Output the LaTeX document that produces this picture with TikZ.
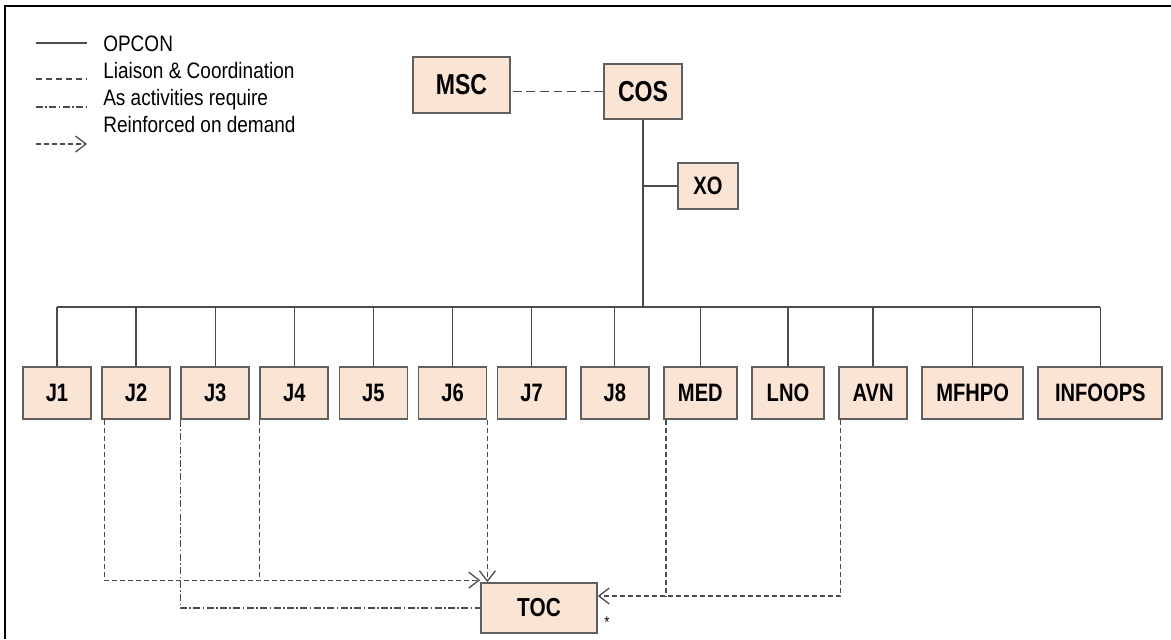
\documentclass[tikz,border=0pt]{standalone}
\usepackage{fontspec}
\setmainfont{Liberation Sans}
\newfontfamily\boxfont{Liberation Sans}[FakeStretch=0.8]
\newfontfamily\legendfont{Liberation Sans}[FakeStretch=0.85]
\usepackage{tikz}
\usepackage{xcolor}
\usetikzlibrary{positioning}
\usetikzlibrary{arrows.meta}
\definecolor{boxfill}{RGB}{250,228,212}
\definecolor{boxline}{RGB}{95,95,95}
\definecolor{linkgray}{RGB}{75,75,75}

\begin{document}
\begin{tikzpicture}[x=0.025cm, y=-0.025cm,
		unit/.style={draw=boxline, line width=1.2pt, fill=boxfill, minimum height=1.3cm, inner sep=0pt, font=\boxfont\bfseries\fontsize{17.9}{20}\selectfont},
		jbox/.style={unit, minimum width=1.7cm},
		opcon/.style={draw=linkgray, line width=1pt},
		liaison/.style={draw=linkgray, line width=1pt, dash pattern=on 0.22cm off 0.12cm},
		asreq/.style={draw=linkgray, line width=0.9pt, dash pattern=on 0.175cm off 0.06cm on 0.04cm off 0.06cm},
		reinf/.style={draw=linkgray, line width=0.9pt, dash pattern=on 0.12cm off 0.08cm},
		tip/.style={-{Straight Barb[length=0.26cm, width=0.4cm, line width=0.9pt]}},
		legtext/.style={anchor=base west, inner sep=0pt, font=\legendfont\fontsize{15.9}{18}\selectfont}]
			\useasboundingbox (0,0) rectangle (1171,639);
			\draw[line width=1.4pt] (5,639) -- (5,6) -- (1171,6);
			
			% legend
			\draw[opcon] (36,43) -- (87,43);
			\draw[liaison, dash pattern=on 0.16cm off 0.09cm] (36,79) -- (87,79);
			\draw[asreq] (36,107) -- (87,107);
			\draw[reinf, tip] (36,144) -- (87,144);
			\node[legtext] (lg1) at (103,51) {OPCON};
			\node[legtext] (lg2) at (103,78) {Liaison \& Coordination};
			\node[legtext] (lg3) at (103,105) {As activities require};
			\node[legtext] (lg4) at (103,132) {Reinforced on demand};
			
			\node[unit, minimum width=2.425cm, minimum height=1.4cm, font=\boxfont\bfseries\fontsize{20.5}{22}\selectfont] (msc) at (461.5,85) {MSC};
			\node[unit, minimum width=1.95cm, minimum height=1.375cm, font=\boxfont\bfseries\fontsize{20.5}{22}\selectfont] (cos) at (643,91.5) {COS};
			\node[unit, minimum width=1.5cm, minimum height=1.15cm] (xo) at (708,186) {XO};
			
			\node[jbox] (j1) at (57,393) {J1};
			\node[jbox, right=0.235cm of j1] (j2) {J2};
			\node[jbox, right=0.235cm of j2] (j3) {J3};
			\node[jbox, right=0.235cm of j3] (j4) {J4};
			\node[jbox, right=0.235cm of j4] (j5) {J5};
			\node[jbox, right=0.235cm of j5] (j6) {J6};
			\node[jbox, right=0.235cm of j6] (j7) {J7};
			\node[jbox, right=0.335cm of j7] (j8) {J8};
			\node[unit, minimum width=1.825cm, right=0.335cm of j8] (med) {MED};
			\node[unit, minimum width=1.8cm, right=0.335cm of med] (lno) {LNO};
			\node[jbox, right=0.335cm of lno] (avn) {AVN};
			\node[unit, minimum width=2.525cm, right=0.335cm of avn] (mfhpo) {MFHPO};
			\node[unit, minimum width=3.1cm, right=0.335cm of mfhpo] (infoops) {INFOOPS};
			
			\node[unit, minimum width=2.9cm, minimum height=1.25cm, font=\boxfont\bfseries\fontsize{18.5}{20}\selectfont] (toc) at (539,608) {TOC};
			\node[inner sep=0pt, font=\legendfont\fontsize{11}{11}\selectfont] (star) at ([xshift=0.225cm, yshift=0.28cm]toc.south east) {*};
			
			% OPCON tree
			\coordinate (bus) at (643,307);
			\draw[opcon] (cos.south) -- (bus);
			\draw[opcon] (xo.west) -- (xo.west -| cos.south);
			\draw[opcon] (j1.north |- bus) -- (infoops.north |- bus);
			\foreach \n in {j1,j2,j3,j4,j5,j6,j7,j8,med,lno,avn,mfhpo,infoops}
				\draw[opcon] (\n.north) -- (\n.north |- bus);
			
			\draw[liaison] (cos.west) -- (cos.west -| msc.east);
			
			% links to TOC
			\coordinate (inL) at ([yshift=0.05cm]toc.north west);
			\coordinate (inR) at ([yshift=0.3cm]toc.east);
			\draw[reinf, tip] ([xshift=0.075cm]j2.south west) |- (inL);
			\draw[reinf] (j4.south west) -- (j4.south west |- inL);
			\draw[reinf, tip] (j6.south east) -- (j6.south east |- toc.north);
			\draw[reinf, tip] ([xshift=0.06cm]avn.south west) |- (inR);
			\draw[reinf] ([xshift=0.075cm]med.south west) -- ([xshift=0.075cm]med.south west |- inR);
			\draw[asreq] (j3.south west) |- (toc.west);
			
		\end{tikzpicture}
\end{document}
